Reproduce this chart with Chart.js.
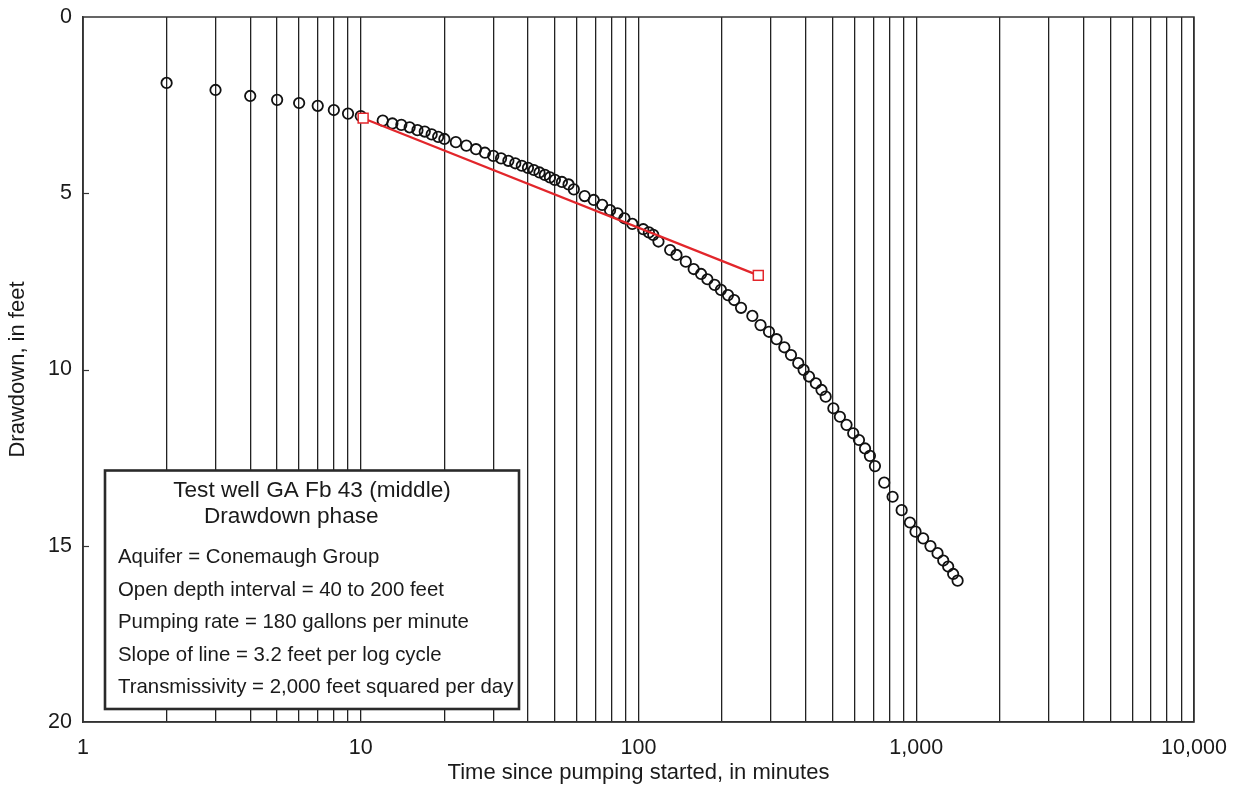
<!DOCTYPE html>
<html>
<head>
<meta charset="utf-8">
<title>Drawdown, test well GA Fb 43 (middle)</title>
<script src="https://cdn.jsdelivr.net/npm/chart.js@4.4.1/dist/chart.umd.min.js"></script>
<style>
  html, body { margin: 0; padding: 0; background: #ffffff; }
  #wrap { width: 1241px; height: 791px; position: relative; }
</style>
</head>
<body>
<div id="wrap"><canvas id="c" width="1241" height="791"></canvas></div>
<script>
// Time since pumping started (minutes) and measured drawdown (feet)
const timeMin = [
  2, 3, 4, 5, 6, 7, 8, 9, 10,
  12, 13, 14, 15, 16, 17, 18, 19, 20,
  22, 24, 26, 28, 30, 32, 34, 36, 38, 40, 42, 44, 46, 48, 50,
  53, 56, 58.5,
  64, 69, 74, 79, 84, 89, 95,
  104, 109, 113, 118,
  130, 137, 148, 158, 168, 177, 188, 198, 210, 221, 234,
  257, 275, 295, 314, 335, 354, 376, 393, 411, 435, 456, 472,
  503, 531, 561, 593, 622, 654, 681, 710,
  767, 822, 886, 949, 994, 1059, 1125, 1193, 1251, 1303, 1358, 1409
];
const drawdownFt = [
  1.87, 2.07, 2.24, 2.35, 2.44, 2.52, 2.64, 2.74, 2.81,
  2.94, 3.02, 3.06, 3.13, 3.21, 3.25, 3.33, 3.40, 3.46,
  3.55, 3.65, 3.75, 3.85, 3.94, 4.01, 4.08, 4.15, 4.22, 4.28, 4.34, 4.41, 4.48, 4.55, 4.62,
  4.68, 4.75, 4.89,
  5.08, 5.19, 5.33, 5.48, 5.57, 5.71, 5.87,
  6.02, 6.11, 6.18, 6.37,
  6.61, 6.75, 6.94, 7.15, 7.29, 7.44, 7.60, 7.74, 7.89, 8.03, 8.25,
  8.48, 8.74, 8.93, 9.14, 9.37, 9.59, 9.82, 10.01, 10.20, 10.39, 10.58, 10.77,
  11.10, 11.34, 11.57, 11.81, 12.00, 12.24, 12.45, 12.74,
  13.21, 13.61, 13.99, 14.34, 14.60, 14.79, 15.01, 15.21, 15.42, 15.59, 15.80, 15.99
];

// Straight-line (Cooper-Jacob) fit through the early data
const lineTime = [10.2, 270];
const lineDrawdown = [2.87, 7.33];

// Axis ticks
const xTickValues = [1, 10, 100, 1000, 10000];
const xTickLabels = ['1', '10', '100', '1,000', '10,000'];
const yTickValues = [0, 5, 10, 15, 20];

// Test summary text
const noteTitle = ['Test well GA Fb 43 (middle)', 'Drawdown phase'];
const noteLines = [
  'Aquifer = Conemaugh Group',
  'Open depth interval = 40 to 200 feet',
  'Pumping rate = 180 gallons per minute',
  'Slope of line = 3.2 feet per log cycle',
  'Transmissivity = 2,000 feet squared per day'
];

const FONT = "'Liberation Sans', Arial, Helvetica, sans-serif";
const INK = '#1a1a1a';
const CLEAR = 'rgba(0,0,0,0)';

// every 1-9 multiple in each log cycle gets a vertical grid line
const logGridValues = [];
for (let d = 1; d < 10000; d *= 10) {
  for (let m = 1; m <= 9; m++) logGridValues.push(m * d);
}
logGridValues.push(10000);

const observed = timeMin.map((t, i) => ({ x: t, y: drawdownFt[i] }));
const fitLine = lineTime.map((t, i) => ({ x: t, y: lineDrawdown[i] }));

// Frame, inward y ticks and the summary box
const decorations = {
  id: 'decorations',
  afterDatasetsDraw(chart) {
    const { ctx, chartArea: a, scales: { y } } = chart;
    ctx.save();
    // frame around the plot
    ctx.strokeStyle = '#333';
    ctx.lineWidth = 1.5;
    ctx.strokeRect(a.left, a.top, a.right - a.left, a.bottom - a.top);
    // short inward tick marks on the drawdown axis
    ctx.lineWidth = 1.2;
    yTickValues.slice(1, -1).forEach(v => {
      const py = Math.round(y.getPixelForValue(v)) + 0.5;
      ctx.beginPath();
      ctx.moveTo(a.left, py);
      ctx.lineTo(a.left + 6, py);
      ctx.stroke();
    });

    // summary box
    const bx = a.left + 22, by = a.top + 453.5, bw = 414, bh = 238.5;
    ctx.fillStyle = '#ffffff';
    ctx.fillRect(bx, by, bw, bh);
    ctx.strokeStyle = '#2a2a2a';
    ctx.lineWidth = 2.6;
    ctx.strokeRect(bx, by, bw, bh);

    ctx.fillStyle = INK;
    ctx.textBaseline = 'alphabetic';
    ctx.font = '22.6px ' + FONT;
    ctx.textAlign = 'center';
    ctx.fillText(noteTitle[0], bx + bw / 2, by + 26.5);
    ctx.textAlign = 'left';
    ctx.fillText(noteTitle[1], bx + 99, by + 52.5);

    ctx.font = '20.4px ' + FONT;
    noteLines.forEach((s, i) => {
      ctx.fillText(s, bx + 13, by + 92.5 + i * 32.5);
    });
    ctx.restore();
  }
};

new Chart(document.getElementById('c'), {
  data: {
    datasets: [
      {
        type: 'line',
        label: 'Straight-line fit',
        data: fitLine,
        borderColor: '#e2262b',
        borderWidth: 2.2,
        pointStyle: 'rect',
        pointRadius: 7,
        pointBorderWidth: 1.5,
        pointBorderColor: '#e2262b',
        pointBackgroundColor: '#ffffff',
        fill: false,
        tension: 0,
        order: 1
      },
      {
        type: 'scatter',
        label: 'Drawdown',
        data: observed,
        pointStyle: 'circle',
        pointRadius: 5.2,
        pointBorderWidth: 1.8,
        pointBorderColor: '#111111',
        pointBackgroundColor: CLEAR,
        order: 2
      }
    ]
  },
  options: {
    responsive: false,
    animation: false,
    devicePixelRatio: 1,
    layout: { padding: { top: 17, right: 47, left: 0, bottom: 0 } },
    plugins: {
      legend: { display: false },
      tooltip: { enabled: false }
    },
    scales: {
      x: {
        type: 'logarithmic',
        position: 'bottom',
        min: 1,
        max: 10000,
        afterBuildTicks(scale) {
          scale.ticks = logGridValues.map(v => ({ value: v }));
        },
        afterFit(scale) { scale.height = 69; },
        grid: {
          display: true,
          drawTicks: true,
          tickLength: 13,
          tickColor: CLEAR,
          color: '#222222',
          lineWidth: 1.3
        },
        border: { display: true, color: '#333', width: 1.5 },
        ticks: {
          autoSkip: false,
          maxRotation: 0,
          minRotation: 0,
          padding: 0,
          color: INK,
          font: { family: FONT, size: 21.5 },
          callback(value) {
            const i = xTickValues.findIndex(v => Math.abs(v - value) < 1e-6 * v);
            return i >= 0 ? xTickLabels[i] : '';
          }
        },
        title: {
          display: true,
          text: 'Time since pumping started, in minutes',
          color: INK,
          font: { family: FONT, size: 22 },
          padding: { top: 0, bottom: 5 }
        }
      },
      y: {
        type: 'linear',
        position: 'left',
        reverse: true,
        min: 0,
        max: 20,
        afterBuildTicks(scale) {
          scale.ticks = yTickValues.map(v => ({ value: v }));
        },
        afterFit(scale) { scale.width = 83; },
        grid: {
          display: true,
          drawOnChartArea: false,
          drawTicks: true,
          tickLength: 11,
          tickColor: CLEAR,
          color: CLEAR
        },
        border: { display: true, color: '#333', width: 1.5 },
        ticks: {
          padding: 0,
          color: INK,
          font: { family: FONT, size: 21.5 }
        },
        title: {
          display: true,
          text: 'Drawdown, in feet',
          color: INK,
          font: { family: FONT, size: 22 },
          padding: { top: 5, bottom: 0 }
        }
      }
    }
  },
  plugins: [decorations]
});
</script>
</body>
</html>
